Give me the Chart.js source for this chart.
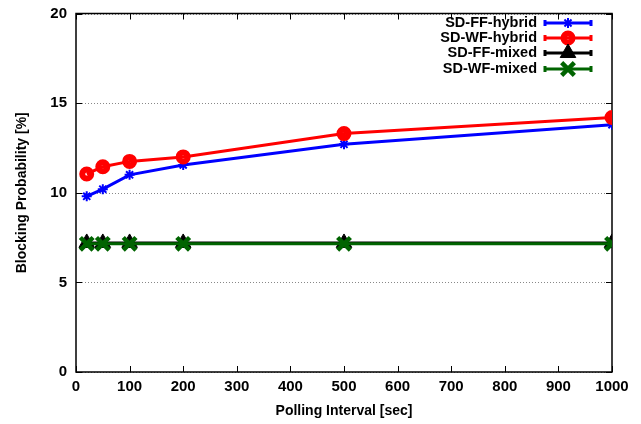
<!DOCTYPE html>
<html>
<head>
<meta charset="utf-8">
<script src="https://cdn.jsdelivr.net/npm/chart.js@4"></script>
<style>
  html, body { margin: 0; padding: 0; background: #fff; }
  #wrap { width: 641px; height: 424px; }
</style>
</head>
<body>
<div id="wrap"><canvas id="chart"></canvas></div>
<script>
const intervals = [20, 50, 100, 200, 500, 1000];
const ffHybrid = [9.8, 10.2, 11.0, 11.55, 12.7, 13.8];
const wfHybrid = [11.05, 11.45, 11.75, 12.0, 13.3, 14.2];
const ffMixed = [7.2, 7.2, 7.2, 7.2, 7.2, 7.2];
const wfMixed = [7.15, 7.15, 7.15, 7.15, 7.15, 7.15];
const seriesNames = ['SD-FF-hybrid', 'SD-WF-hybrid', 'SD-FF-mixed', 'SD-WF-mixed'];
const xTicks = [0, 100, 200, 300, 400, 500, 600, 700, 800, 900, 1000];
const yTicks = [0, 5, 10, 15, 20];

const FONT = '"Liberation Sans", Arial, sans-serif';

function pts(ys) {
    return intervals.map((x, i) => ({ x: x, y: ys[i] }));
}

function series(label, ys, color, style, radius, bw, fill, order) {
    return {
        label: label,
        data: pts(ys),
        borderColor: color,
        backgroundColor: fill,
        borderWidth: 3,
        pointStyle: style,
        pointRadius: radius,
        pointBorderWidth: bw,
        pointBorderColor: color,
        pointBackgroundColor: fill,
        tension: 0,
        order: order
    };
}

function drawFrame(chart) {
    const ctx = chart.ctx;
    const a = chart.chartArea;
    const x = chart.scales.x, y = chart.scales.y;
    ctx.save();
    ctx.strokeStyle = '#888888';
    ctx.lineWidth = 1;
    ctx.setLineDash([1, 2]);
    yTicks.forEach(v => {
        const py = Math.round(y.getPixelForValue(v)) + 0.5;
        ctx.beginPath();
        ctx.moveTo(a.left, py);
        ctx.lineTo(a.right, py);
        ctx.stroke();
    });
    ctx.setLineDash([]);
    ctx.strokeStyle = '#000000';
    ctx.lineWidth = 1;
    ctx.beginPath();
    xTicks.forEach(v => {
        const px = Math.round(x.getPixelForValue(v)) + 0.5;
        ctx.moveTo(px, a.bottom); ctx.lineTo(px, a.bottom - 6);
        ctx.moveTo(px, a.top); ctx.lineTo(px, a.top + 6);
    });
    yTicks.forEach(v => {
        const py = Math.round(y.getPixelForValue(v)) + 0.5;
        ctx.moveTo(a.left, py); ctx.lineTo(a.left + 6, py);
        ctx.moveTo(a.right, py); ctx.lineTo(a.right - 6, py);
    });
    ctx.stroke();
    ctx.lineWidth = 1.5;
    ctx.beginPath();
    ctx.rect(a.left, a.top, a.right - a.left, a.bottom - a.top);
    ctx.stroke();
    ctx.restore();
}

// frame, dotted grid and inward ticks like the original plot
const framePlugin = {
    id: 'frame',
    beforeDatasetsDraw(chart) {
        drawFrame(chart);
    },
    afterDraw(chart) {
        const { ctx } = chart;
        ctx.save();
        ctx.font = 'bold 14.5px ' + FONT;
        ctx.textAlign = 'right';
        ctx.textBaseline = 'middle';
        const rows = [23, 38, 53, 69];
        const textRight = 537, l0 = 545, l1 = 591;
        chart.data.datasets.forEach((ds, i) => {
            const yy = rows[i];
            ctx.fillStyle = '#000';
            ctx.fillText(ds.label, textRight, yy);
            ctx.strokeStyle = ds.borderColor;
            ctx.lineWidth = 3;
            ctx.beginPath();
            ctx.moveTo(l0, yy); ctx.lineTo(l1, yy);
            ctx.moveTo(l0, yy - 3); ctx.lineTo(l0, yy + 3);
            ctx.moveTo(l1, yy - 3); ctx.lineTo(l1, yy + 3);
            ctx.stroke();
            ctx.fillStyle = ds.pointBackgroundColor;
            ctx.lineWidth = ds.pointBorderWidth;
            Chart.helpers.drawPoint(ctx, {
                pointStyle: ds.pointStyle,
                radius: ds.pointRadius,
                rotation: 0,
                borderWidth: ds.pointBorderWidth
            }, (l0 + l1) / 2, yy);
        });
        ctx.restore();
    }
};

new Chart(document.getElementById('chart'), {
    type: 'line',
    data: {
        datasets: [
            series(seriesNames[0], ffHybrid, '#0000ff', 'star', 5, 2, '#0000ff', 3),
            series(seriesNames[1], wfHybrid, '#ff0000', 'circle', 4.5, 6, 'rgba(0,0,0,0)', 2),
            series(seriesNames[2], ffMixed, '#000000', 'triangle', 9, 1, '#000000', 1),
            series(seriesNames[3], wfMixed, '#006400', 'crossRot', 9, 4.5, '#006400', 0)
        ]
    },
    options: {
        responsive: true,
        maintainAspectRatio: false,
        animation: false,
        layout: { padding: { left: 0, right: 29, top: 10, bottom: 0 } },
        plugins: {
            legend: { display: false },
            tooltip: { enabled: false }
        },
        scales: {
            x: {
                type: 'linear',
                min: 0,
                max: 1000,
                afterBuildTicks: s => { s.ticks = xTicks.map(v => ({ value: v })); },
                afterFit: s => { s.height = 52; s.paddingLeft = 0; s.paddingRight = 0; },
                grid: { display: false, drawTicks: false },
                border: { display: false },
                ticks: {
                    color: '#000',
                    padding: 6,
                    maxRotation: 0,
                    callback: v => String(v),
                    font: { family: FONT, size: 15, weight: 'bold' }
                },
                title: {
                    display: true,
                    text: 'Polling Interval [sec]',
                    color: '#000',
                    padding: { top: 0, bottom: 4 },
                    font: { family: FONT, size: 14, weight: 'bold' }
                }
            },
            y: {
                min: 0,
                max: 20,
                afterBuildTicks: s => { s.ticks = yTicks.map(v => ({ value: v })); },
                afterFit: s => { s.width = 76; s.paddingTop = 0; s.paddingBottom = 0; },
                grid: { display: false, drawTicks: false },
                border: { display: false },
                ticks: {
                    color: '#000',
                    padding: 9,
                    callback: v => String(v),
                    font: { family: FONT, size: 15, weight: 'bold' }
                },
                title: {
                    display: true,
                    text: 'Blocking Probability [%]',
                    color: '#000',
                    padding: { top: 14, bottom: 0 },
                    font: { family: FONT, size: 14, weight: 'bold' }
                }
            }
        }
    },
    plugins: [framePlugin]
});
</script>
</body>
</html>
